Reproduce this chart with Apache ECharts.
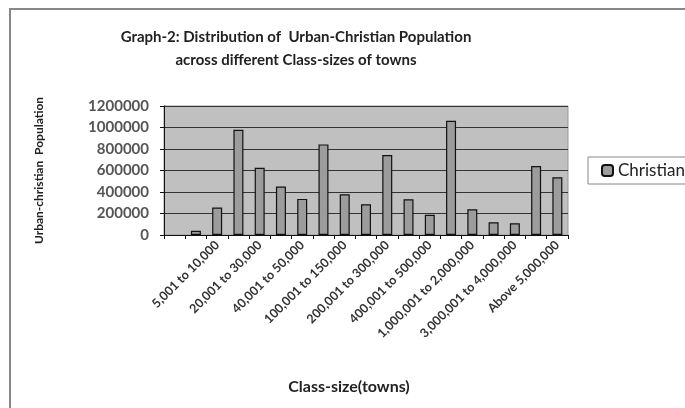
<!DOCTYPE html>
<html>
<head>
<meta charset="utf-8">
<script src="https://cdn.jsdelivr.net/npm/echarts@6/dist/echarts.min.js"></script>
<style>
  html, body { margin: 0; padding: 0; background: #fff; }
  #main { width: 685px; height: 408px; }
</style>
</head>
<body>
<div id="main"></div>
<script>
// class-size categories (first one has no bar and no label)
const classSizes = [
  '', 'Up to 5,000', '5,001 to 10,000', '10,001 to 20,000', '20,001 to 30,000',
  '30,001 to 40,000', '40,001 to 50,000', '50,001 to 100,000', '100,001 to 150,000',
  '150,001 to 200,000', '200,001 to 300,000', '300,001 to 400,000', '400,001 to 500,000',
  '500,001 to 1,000,000', '1,000,001 to 2,000,000', '2,000,001 to 3,000,000',
  '3,000,001 to 4,000,000', '4,000,001 to 5,000,000', 'Above 5,000,000'
];
const christian = [
  null, 40000, 255000, 978000, 625000, 450000, 336000, 843000, 378000,
  286000, 744000, 332000, 188000, 1062000, 240000, 118000, 110000, 641000, 537000
];
const yTicks = { min: 0, max: 1200000, step: 200000 };

const chart = echarts.init(document.getElementById('main'));
const font = 'Lato, "Noto Sans", sans-serif';

chart.setOption({
  animation: false,
  title: {
    text: 'Graph-2: Distribution of  Urban-Christian Population\nacross different Class-sizes of towns',
    left: 291,
    top: 21,
    textAlign: 'center',
    textStyle: { fontFamily: font, fontSize: 15, fontWeight: 'bold', color: '#222', lineHeight: 23 }
  },
  graphic: [{
    type: 'rect',
    shape: { x: 10, y: 9, width: 700, height: 420 },
    style: { fill: 'none', stroke: '#888', lineWidth: 2 },
    silent: true
  }],
  legend: {
    left: 588,
    top: 157,
    orient: 'vertical',
    data: ['Christian'],
    itemWidth: 11,
    itemHeight: 11,
    padding: [5, 40, 5, 13],
    borderColor: '#888',
    borderWidth: 1,
    backgroundColor: '#fff',
    textStyle: { fontFamily: font, fontSize: 17, color: '#222', padding: [0, 0, 0, 0] }
  },
  grid: {
    left: 164, right: 117, top: 106, bottom: 173,
    show: true, backgroundColor: '#c0c0c0', borderColor: '#999', borderWidth: 1
  },
  xAxis: {
    type: 'category',
    data: classSizes,
    name: 'Class-size(towns)',
    nameLocation: 'middle',
    nameGap: 144,
    nameTextStyle: { fontFamily: font, fontSize: 16, fontWeight: 'bold', color: '#222', padding: [0, 34, 0, 0] },
    axisLine: { lineStyle: { color: '#111', width: 1 } },
    axisTick: { show: true, interval: 0, length: 4, lineStyle: { color: '#111' } },
    axisLabel: {
      interval: 1, rotate: 45, margin: 8,
      fontFamily: font, fontSize: 12.5, fontWeight: 'bold', color: '#333'
    }
  },
  yAxis: {
    type: 'value',
    min: yTicks.min,
    max: yTicks.max,
    interval: yTicks.step,
    name: 'Urban-christian  Population',
    nameLocation: 'middle',
    nameGap: 119,
    nameTextStyle: { fontFamily: font, fontSize: 12, fontWeight: 'bold', color: '#222' },
    axisLine: { show: true, lineStyle: { color: '#111' } },
    axisTick: { show: true, length: 4, lineStyle: { color: '#111' } },
    axisLabel: {
      fontFamily: font, fontSize: 15, fontWeight: 'bold', color: '#555', margin: 15,
      formatter: (v) => String(v)
    },
    splitLine: { lineStyle: { color: '#333', width: 1 } }
  },
  series: [{
    name: 'Christian',
    type: 'bar',
    data: christian,
    barWidth: 10,
    itemStyle: { color: '#9c9c9c', borderColor: '#111', borderWidth: 1.2 }
  }]
});
</script>
</body>
</html>
